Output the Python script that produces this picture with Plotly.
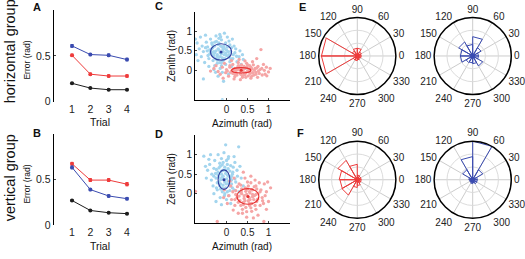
import plotly.graph_objects as go

W, H = 525, 259
FONT = "Liberation Sans, Arial, sans-serif"

# ---------------- data ----------------
trials = [1, 2, 3, 4]
A_blue = [0.61, 0.515, 0.507, 0.46]
A_red = [0.507, 0.30, 0.28, 0.28]
A_black = [0.20, 0.148, 0.13, 0.13]
A_blue_err = [0.015, 0.012, 0.014, 0.014]
A_red_err = [0.012, 0.012, 0.012, 0.012]
A_black_err = [0.008, 0.006, 0.006, 0.006]

B_red = [0.675, 0.495, 0.495, 0.45]
B_blue = [0.635, 0.39, 0.32, 0.29]
B_black = [0.27, 0.16, 0.135, 0.125]
B_red_err = [0.015, 0.015, 0.015, 0.018]
B_blue_err = [0.015, 0.012, 0.012, 0.012]
B_black_err = [0.008, 0.006, 0.006, 0.006]

C_blue_x = [-0.15, -0.25, -0.05, -0.30, -0.10, -0.20, 0.00, -0.35, -0.18, 0.05, -0.40, -0.28, -0.08, 0.10, -0.45, -0.22, 0.15, -0.55, -0.12, 0.08, -0.32, -0.60, 0.20, -0.48, -0.02, 0.25, -0.38, -0.65, 0.12, -0.15, -0.70, 0.30, -0.25, 0.02, -0.52, -0.42, 0.18, -0.05, 0.35, -0.62, -0.72, 0.40, -0.30, -0.10, 0.05, -0.20, -0.55, -0.07, -0.10, 0.45, -0.35, -0.20, -0.08, -0.28, 0.02, -0.42, -0.15, 0.08, -0.22, -0.33, 0.22, -0.58, -0.12, 0.28, -0.46, -0.02, -0.68, 0.14, -0.74, -0.50, 0.32, -0.16, 0.38, -0.26]
C_blue_y = [0.45, 0.50, 0.40, 0.38, 0.60, 0.30, 0.52, 0.55, 0.70, 0.35, 0.42, 0.62, 0.25, 0.48, 0.60, 0.18, 0.30, 0.48, 0.78, 0.65, 0.25, 0.35, 0.45, 0.72, 0.15, 0.22, 0.80, 0.55, 0.10, 0.05, 0.70, 0.35, 0.88, 0.85, 0.20, 0.10, 0.62, 0.95, 0.15, 0.85, 0.40, 0.28, 0.02, -0.05, -0.10, -0.15, -0.22, -0.28, -0.75, 0.05, 0.70, 0.55, 0.48, 0.45, 0.60, 0.30, 0.35, 0.22, 0.40, 0.58, 0.55, 0.62, 0.12, 0.10, 0.50, 0.70, 0.25, 0.80, 0.80, 0.90, 0.50, 0.92, 0.40, -0.05]
C_blue_core_x = [-0.18, -0.22, -0.12, -0.05, -0.30, -0.26, -0.14, -0.02, 0.06, -0.36, -0.20, -0.10, -0.24, -0.04, 0.12, -0.40, -0.32, -0.16, 0.00, -0.08, -0.28, 0.04, -0.44, -0.18, -0.12, 0.10, -0.34, -0.22, -0.06, 0.16, -0.50, -0.38, 0.24, -0.28, -0.14, 0.06]
C_blue_core_y = [0.52, 0.36, 0.42, 0.56, 0.48, 0.30, 0.62, 0.44, 0.40, 0.46, 0.66, 0.32, 0.74, 0.30, 0.58, 0.52, 0.40, 0.20, 0.38, 0.54, 0.72, 0.48, 0.38, 0.82, 0.20, 0.30, 0.66, 0.26, 0.62, 0.40, 0.58, 0.48, 0.36, 0.12, 0.86, 0.75]
C_red_x = [0.35, 0.20, 0.50, 0.10, 0.60, 0.30, 0.42, 0.00, 0.70, 0.25, 0.55, -0.10, 0.80, 0.15, 0.45, 0.65, -0.20, 0.90, 0.38, 0.05, 0.75, 0.28, -0.30, 1.00, 0.58, 0.18, 0.85, -0.05, 0.48, 0.95, -0.38, 0.62, 0.12, 0.33, 0.72, 0.82, 0.40, 0.22, 0.52, 0.08, 0.68, 0.32, 0.15, 0.46, 0.26, 0.56, -0.15, 0.78, 1.04, 0.88, -0.25, 0.36, 0.60, 0.02, 0.44, 0.74, 0.20, 0.92, -0.08, 0.30]
C_red_y = [0.00, 0.05, -0.03, -0.05, 0.04, 0.10, -0.10, 0.02, -0.05, -0.12, 0.12, 0.08, 0.02, 0.15, 0.06, -0.12, -0.03, 0.00, -0.18, -0.15, 0.10, 0.20, 0.05, -0.04, -0.20, -0.22, -0.12, 0.18, 0.18, 0.08, -0.02, 0.22, 0.25, -0.24, 0.30, 0.53, 0.02, -0.02, 0.00, 0.08, 0.05, -0.06, -0.08, -0.06, 0.06, -0.08, -0.10, -0.08, 0.05, 0.15, 0.12, 0.14, -0.15, -0.02, 0.24, -0.18, -0.16, -0.10, -0.20, 0.28]
C_red_core_x = [0.30, 0.40, 0.48, 0.24, 0.56, 0.36, 0.18, 0.62, 0.44, 0.28, 0.66, 0.12, 0.52, 0.34, 0.72, 0.08, 0.58, 0.42, 0.20, 0.76, 0.50, 0.38, 0.64, 0.26, 0.84, 0.46, 0.14, 0.70, -0.02, 0.96]
C_red_core_y = [0.03, -0.04, 0.08, -0.07, -0.01, 0.06, 0.02, -0.06, -0.12, 0.12, 0.00, -0.02, -0.14, -0.10, 0.06, 0.12, 0.08, 0.10, -0.10, -0.02, 0.14, -0.14, 0.14, 0.02, 0.05, -0.18, 0.00, -0.10, -0.06, -0.14]
D_blue_x = [-0.06, -0.12, 0.00, -0.18, 0.05, -0.10, -0.02, -0.20, 0.08, -0.15, 0.02, -0.25, 0.12, -0.08, -0.30, 0.15, -0.05, -0.22, 0.10, -0.35, 0.18, -0.12, -0.28, 0.00, 0.22, -0.40, -0.15, 0.05, -0.45, 0.25, -0.32, 0.30, -0.20, -0.54, -0.02, 0.29, 0.35, -0.48, 0.10, -0.25, 0.40, -0.08, -0.14, 0.04, -0.04, -0.18, 0.08, -0.10, -0.24, 0.14, -0.36, 0.20, -0.42, 0.00, -0.30, 0.26, -0.16, 0.06, -0.50, 0.32, -0.06, 0.18, -0.38, -0.12, 0.12, -0.02]
D_blue_y = [0.36, 0.50, 0.25, 0.30, 0.45, 0.15, 0.60, 0.55, 0.20, 0.70, 0.05, 0.40, 0.35, 0.80, 0.65, 0.55, -0.05, 0.10, 0.72, 0.50, 0.10, 0.90, 0.85, -0.15, 0.30, 0.75, -0.10, 0.95, 0.60, 0.60, 0.20, 0.05, 1.00, 0.96, 1.25, 1.20, 0.40, 0.40, -0.25, -0.20, 0.20, 0.45, 0.25, 0.32, 0.68, 0.42, 0.58, 0.05, 0.62, 0.15, 0.35, 0.80, 0.88, 0.85, 0.00, 0.45, 0.78, -0.05, 0.70, 0.70, 1.05, 0.95, 1.00, -0.28, 0.45, 0.15]
D_blue_core_x = [-0.04, -0.10, 0.02, -0.14, 0.06, -0.08, -0.02, -0.16, 0.10, -0.12, 0.00, -0.20, 0.04, -0.06, -0.22, 0.12, -0.18, 0.08, -0.10, -0.26, 0.14, -0.04, -0.14, 0.02, -0.08, 0.16, -0.24, 0.04, -0.30, 0.20]
D_blue_core_y = [0.30, 0.42, 0.48, 0.36, 0.28, 0.22, 0.52, 0.20, 0.40, 0.58, 0.38, 0.48, 0.64, 0.10, 0.28, 0.25, 0.66, 0.08, 0.74, 0.52, 0.50, 0.00, 0.12, 0.75, 0.60, 0.68, 0.15, 0.90, 0.45, 0.38]
D_red_x = [0.51, 0.35, 0.65, 0.25, 0.75, 0.45, 0.55, 0.15, 0.85, 0.40, 0.70, 0.05, 0.95, 0.30, 0.60, 0.20, 0.80, 0.50, 0.10, 1.00, 0.38, 0.68, -0.05, 0.90, 0.28, 0.75, 0.48, 0.58, 0.18, 0.95, 0.02, 1.05, 0.62, 0.42, 0.32, 0.72, 0.55, 0.22, 0.82, 0.46, 0.66, 0.36, 0.12, 0.88, 0.52, 0.26, 0.78, 0.60, 0.44, 0.16, 0.92, 0.70, 0.34, -0.07, 0.98, 0.40, 0.64, -0.74, -0.22, 0.89, 0.08, 0.56]
D_red_y = [-0.07, 0.05, -0.15, -0.10, 0.00, 0.15, -0.30, 0.05, -0.10, -0.22, 0.20, -0.05, 0.05, 0.25, -0.45, -0.30, -0.30, 0.30, 0.20, -0.20, -0.40, 0.35, 0.10, 0.25, -0.50, -0.55, -0.60, 0.45, 0.40, -0.40, -0.25, 0.15, 0.10, -0.05, -0.18, -0.20, 0.05, -0.02, 0.10, -0.35, -0.05, 0.12, -0.15, -0.25, 0.20, 0.18, 0.28, -0.25, 0.40, -0.42, -0.05, -0.40, -0.30, -0.10, 0.30, 0.55, -0.62, 0.06, -0.71, -0.71, 0.32, -0.15]
D_red_core_x = [0.48, 0.56, 0.42, 0.62, 0.36, 0.70, 0.52, 0.30, 0.60, 0.46, 0.74, 0.40, 0.58, 0.22, 0.66, 0.50, 0.80, 0.34, 0.54, 0.44, 0.68, 0.28, 0.86, 0.58, 0.38, 0.62, 0.48, 0.72, 0.20, 0.54]
D_red_core_y = [-0.02, 0.02, -0.12, -0.08, 0.00, -0.02, -0.18, -0.06, 0.10, 0.06, -0.14, -0.28, -0.36, 0.08, 0.18, 0.12, 0.05, 0.22, -0.10, -0.18, -0.30, -0.22, -0.18, 0.28, -0.50, -0.02, -0.46, 0.12, -0.15, -0.24]

# ellipse parameters: centre x, centre y, radius x, radius y
C_blue_ell = [-0.13, 0.47, 0.25, 0.21]
C_red_ell = [0.35, 0.00, 0.23, 0.07]
D_blue_ell = [-0.06, 0.36, 0.14, 0.25]
D_red_ell = [0.51, -0.07, 0.26, 0.20]

# rose histograms: 12 bins of 30 deg, bin i spans [30*i, 30*(i+1)]
bin_edges = list(range(0, 361, 30))
E_red = [0.10, 0.12, 0.20, 0.20, 0.15, 0.93, 0.93, 0.12, 0.12, 0.10, 0.08, 0.10]
E_blue = [0.15, 0.25, 0.50, 0.30, 0.42, 0.32, 0.32, 0.20, 0.18, 0.20, 0.30, 0.15]
F_red = [0.10, 0.10, 0.12, 0.40, 0.58, 0.47, 0.45, 0.46, 0.20, 0.15, 0.10, 0.10]
F_blue = [0.12, 0.30, 1.00, 0.60, 0.30, 0.10, 0.08, 0.08, 0.10, 0.08, 0.12, 0.12]
angle_ticks = list(range(0, 360, 30))
angle_labels = [str(a) for a in angle_ticks]

# ---------------- colours ----------------
BLUE = "#3a4bb0"
RED = "#ee3b3b"
BLACK = "#1e1e1e"
LBLUE = "#a3d5ee"
LRED = "#f5a5a5"
ELL_BLUE = "#2f3ea0"
ELL_RED = "#e83232"

fig = go.Figure()


def line_trace(y, err, color, xa, ya):
    fig.add_trace(go.Scatter(
        x=trials, y=y, mode="lines+markers", xaxis=xa, yaxis=ya,
        line=dict(color=color, width=1),
        marker=dict(color=color, size=4),
        error_y=dict(type="data", array=err, color=color, thickness=1, width=1.5),
        showlegend=False, hoverinfo="skip"))


line_trace(A_blue, A_blue_err, BLUE, "x", "y")
line_trace(A_red, A_red_err, RED, "x", "y")
line_trace(A_black, A_black_err, BLACK, "x", "y")
line_trace(B_red, B_red_err, RED, "x2", "y2")
line_trace(B_blue, B_blue_err, BLUE, "x2", "y2")
line_trace(B_black, B_black_err, BLACK, "x2", "y2")


def cloud(xs, ys, color, xa, ya):
    fig.add_trace(go.Scatter(
        x=xs, y=ys, mode="markers", xaxis=xa, yaxis=ya,
        marker=dict(color=color, size=3.3, line=dict(width=0)),
        showlegend=False, hoverinfo="skip"))


cloud(C_blue_x + C_blue_core_x, C_blue_y + C_blue_core_y, LBLUE, "x3", "y3")
cloud(C_red_x + C_red_core_x, C_red_y + C_red_core_y, LRED, "x3", "y3")
cloud(D_blue_x + D_blue_core_x, D_blue_y + D_blue_core_y, LBLUE, "x4", "y4")
cloud(D_red_x + D_red_core_x, D_red_y + D_red_core_y, LRED, "x4", "y4")

# centre dots
for ell, col, xa, ya in [(C_blue_ell, ELL_BLUE, "x3", "y3"), (C_red_ell, ELL_RED, "x3", "y3"),
                         (D_blue_ell, ELL_BLUE, "x4", "y4"), (D_red_ell, ELL_RED, "x4", "y4")]:
    fig.add_trace(go.Scatter(x=[ell[0]], y=[ell[1]], mode="markers", xaxis=xa, yaxis=ya,
                             marker=dict(color=col, size=3), showlegend=False, hoverinfo="skip"))

shapes = []
for ell, col, xr, yr in [(C_blue_ell, ELL_BLUE, "x3", "y3"), (C_red_ell, ELL_RED, "x3", "y3"),
                         (D_blue_ell, ELL_BLUE, "x4", "y4"), (D_red_ell, ELL_RED, "x4", "y4")]:
    shapes.append(dict(type="circle", xref=xr, yref=yr,
                       x0=ell[0] - ell[2], x1=ell[0] + ell[2],
                       y0=ell[1] - ell[3], y1=ell[1] + ell[3],
                       line=dict(color=col, width=1.1)))


def rose(counts, color, sub):
    th, rr = [], []
    for i, v in enumerate(counts):
        a, b = bin_edges[i], bin_edges[i + 1]
        th += [a, a, b, b]
        rr += [0, v, v, 0]
    fig.add_trace(go.Scatterpolar(theta=th, r=rr, mode="lines", subplot=sub,
                                  line=dict(color=color, width=1), showlegend=False,
                                  hoverinfo="skip"))
    fig.add_trace(go.Scatterpolar(theta=[0], r=[0], mode="markers", subplot=sub,
                                  marker=dict(color=color, size=5), showlegend=False,
                                  hoverinfo="skip"))


rose(E_red, RED, "polar")
rose(E_blue, BLUE, "polar2")
rose(F_red, RED, "polar3")
rose(F_blue, BLUE, "polar4")


def px_x(a, b):
    return [a / W, b / W]


def px_y(top, bottom):
    return [1 - bottom / H, 1 - top / H]


tickfont = dict(family=FONT, size=10.5, color="#222")
tickfont2 = dict(family=FONT, size=10, color="#222")

lineplot_x = dict(range=[0, 5], tickvals=trials, showline=False, showgrid=False,
                  zeroline=False, ticks="", tickfont=tickfont)
lineplot_y = dict(range=[0, 1], tickvals=[0, 0.5], ticktext=["0", "0.5"], showline=True,
                  linecolor="black", linewidth=1, showgrid=False, zeroline=False,
                  ticks="inside", ticklen=2, tickfont=tickfont)
scat_x = dict(range=[-0.75, 1.5], tickvals=[0, 0.5, 1], ticktext=["0", "0.5", "1"],
              showline=True, linecolor="black", linewidth=1, showgrid=False,
              zeroline=False, ticks="inside", ticklen=2, tickfont=tickfont2)
scat_y = dict(range=[-0.75, 1.5], tickvals=[0, 0.5, 1], ticktext=["0", "0.5", "1"],
              showline=True, linecolor="black", linewidth=1, showgrid=False,
              zeroline=False, ticks="inside", ticklen=2, tickfont=tickfont2)


def polar_cfg(cx, cy, rad):
    return dict(
        domain=dict(x=px_x(cx - rad, cx + rad), y=px_y(cy - rad, cy + rad)),
        bgcolor="white",
        angularaxis=dict(tickmode="array", tickvals=angle_ticks, ticktext=angle_labels,
                         direction="counterclockwise", rotation=0, showline=True,
                         linecolor="black", linewidth=1.5, gridcolor="#cccccc",
                         gridwidth=1.2, ticks="", tickfont=tickfont2),
        radialaxis=dict(range=[0, 1], tickvals=[1 / 3, 2 / 3], showticklabels=False,
                        ticks="", showline=False, gridcolor="#dcdcdc", gridwidth=1),
    )


annotations = []


def ann(text, x, y, size, angle=0, bold=False):
    annotations.append(dict(text=("<b>%s</b>" % text) if bold else text,
                            x=x / W, y=1 - y / H, xref="paper", yref="paper",
                            showarrow=False, textangle=angle, xanchor="center",
                            yanchor="middle",
                            font=dict(family=FONT, size=size, color="#111")))


ann("horizontal group", 9.5, 53, 14.5, -90)
ann("vertical group", 9.5, 182, 14.5, -90)
ann("Error (rad)", 27, 62, 8.5, -90)
ann("Error (rad)", 27, 189, 8.5, -90)
ann("Trial", 100, 125, 10.5)
ann("Trial", 100, 252, 10.5)
ann("Zenith (rad)", 172, 57, 10, -90)
ann("Zenith (rad)", 172, 183, 10, -90)
ann("Azimuth (rad)", 242, 126, 10)
ann("Azimuth (rad)", 242, 252, 10)
ann("A", 37, 7, 11, bold=True)
ann("B", 37, 136, 11, bold=True)
ann("C", 159, 6.5, 11, bold=True)
ann("D", 159, 137, 11, bold=True)
ann("E", 302, 7, 11, bold=True)
ann("F", 300.5, 136.5, 11, bold=True)

fig.update_layout(
    width=W, height=H, margin=dict(l=0, r=0, t=0, b=0),
    paper_bgcolor="white", plot_bgcolor="white", showlegend=False,
    xaxis=dict(domain=px_x(53.7, 145.3), anchor="y", **lineplot_x),
    yaxis=dict(domain=px_y(10.5, 104), anchor="x", **lineplot_y),
    xaxis2=dict(domain=px_x(53.7, 145.3), anchor="y2", **lineplot_x),
    yaxis2=dict(domain=px_y(137.5, 230.3), anchor="x2", **lineplot_y),
    xaxis3=dict(domain=px_x(195, 289.5), anchor="y3", **scat_x),
    yaxis3=dict(domain=px_y(12, 102), anchor="x3", **scat_y),
    xaxis4=dict(domain=px_x(195, 289.5), anchor="y4", **scat_x),
    yaxis4=dict(domain=px_y(138.3, 228.3), anchor="x4", **scat_y),
    polar=polar_cfg(357.3, 57.3, 39.5),
    polar2=polar_cfg(472.7, 57.3, 39.5),
    polar3=polar_cfg(357.3, 184, 39.5),
    polar4=polar_cfg(472.7, 184, 39.5),
    shapes=shapes,
    annotations=annotations,
    font=dict(family=FONT),
)

fig.write_html("out.html", config={"displayModeBar": False},
               post_script="document.body.style.margin='0';document.body.style.padding='0';")
